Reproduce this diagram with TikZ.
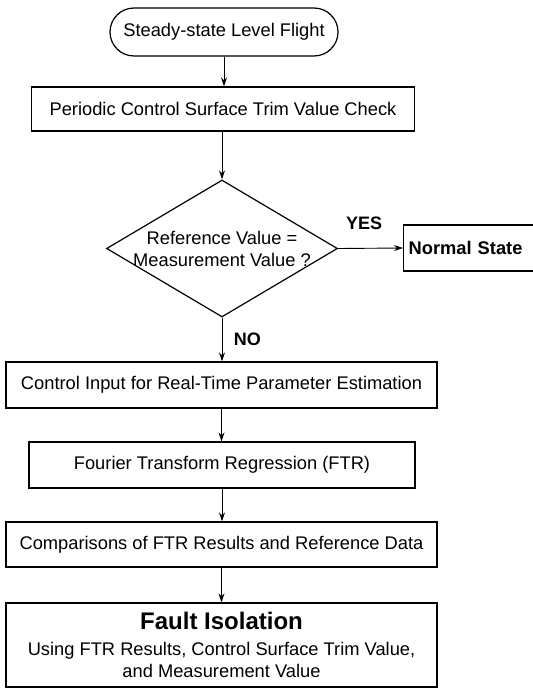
\documentclass[tikz,border=0pt]{standalone}
\usepackage{fontspec}
\setsansfont{Liberation Sans}
\usepackage{tikz}
\usetikzlibrary{arrows.meta, positioning, shapes.geometric, shapes.misc}

\begin{document}
\begin{tikzpicture}[x=1pt, y=-1pt, font=\sffamily\fontsize{18.3}{22}\selectfont,
    procbox/.style={draw, line width=1.2pt, rectangle, minimum height=45pt, inner sep=0pt, align=center},
    decision/.style={draw, line width=1.2pt, diamond, minimum width=231pt, minimum height=137pt, inner sep=0pt},
    flowarrow/.style={-{Stealth[length=9pt, width=6pt]}, line width=0.9pt},
    tag/.style={font=\sffamily\bfseries\fontsize{18}{22}\selectfont}]
    \useasboundingbox (0, 0) rectangle (532, 695);

    \node[draw, line width=1.2pt, rounded rectangle, minimum width=228pt, minimum height=48pt, inner sep=0pt] (start) at (224, 32) {Steady-state Level Flight};
    \node[procbox, minimum width=383pt, minimum height=44pt] (trimcheck) at (223, 109) {Periodic Control Surface Trim Value Check};
    \node[decision] (compare) at (222, 248.5) {};
    \node (comparetext) at (compare.center) [align=center] {Reference Value =\\Measurement Value ?};
    \node[procbox, anchor=west, text width=130pt, align=left, inner xsep=5pt, minimum height=46pt] (normal) at (403, 248) {\bfseries Normal State};

    \node[procbox, minimum width=431pt, minimum height=46pt] (ctrlinput) at (221.5, 385) {Control Input for Real-Time Parameter Estimation};
    \node[procbox, minimum width=386pt, minimum height=46pt] (ftr) at (222, 465) {Fourier Transform Regression (FTR)};
    \node[procbox, minimum width=431pt] (results) at (221.5, 544.5) {Comparisons of FTR Results and Reference Data};
    \node[procbox, minimum width=431pt, minimum height=84pt] (fault) at (221.5, 645)
        {{\fontsize{24}{28}\selectfont\bfseries Fault Isolation}\\[4pt]Using FTR Results, Control Surface Trim Value,\\and Measurement Value};

    \draw[flowarrow] (start.south) -- (start.south |- trimcheck.north);
    \draw[flowarrow] (trimcheck.south -| compare.north) -- (compare.north);
    \draw[flowarrow] (compare.east) -- (normal.west) node[tag, pos=0.4, above=15pt] (yes) {YES};
    \draw[flowarrow] (compare.south) -- (compare.south |- ctrlinput.north) node[tag, midway, right=8pt] (no) {NO};
    \draw[flowarrow] (ctrlinput.south) -- (ctrlinput.south |- ftr.north);
    \draw[flowarrow] (ftr.south) -- (ftr.south |- results.north);
    \draw[flowarrow] (results.south) -- (results.south |- fault.north);
\end{tikzpicture}
\end{document}
